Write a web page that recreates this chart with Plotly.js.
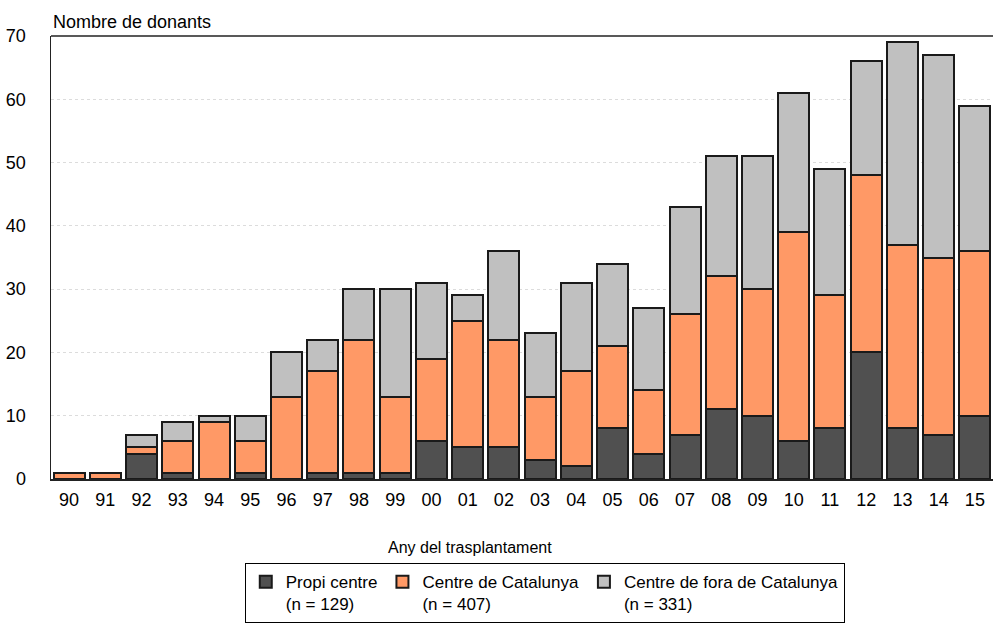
<!DOCTYPE html>
<html>
<head>
<meta charset="utf-8">
<script src="https://cdn.plot.ly/plotly-3.0.1.min.js"></script>
<style>html,body{margin:0;padding:0;background:#fff;}</style>
</head>
<body>
<div id="chart" style="width:993px;height:628px;"></div>
<script>
const years = ["90","91","92","93","94","95","96","97","98","99","00","01","02","03","04","05","06","07","08","09","10","11","12","13","14","15"];
const propiCentre = [0,0,4,1,0,1,0,1,1,1,6,5,5,3,2,8,4,7,11,10,6,8,20,8,7,10];
const centreCatalunya = [1,1,1,5,9,5,13,16,21,12,13,20,17,10,15,13,10,19,21,20,33,21,28,29,28,26];
const centreFora = [0,0,2,3,1,4,7,5,8,17,12,4,14,10,14,13,13,17,19,21,22,20,18,32,32,23];
const seriesNames = ["Propi centre<br>(n = 129)","Centre de Catalunya<br>(n = 407)","Centre de fora de Catalunya<br>(n = 331)"];
const seriesColors = ["#505050","#FF9966","#C0C0C0"];
const yTitle = "Nombre de donants";
const xTitle = "Any del trasplantament";

const FONT = "Liberation Sans Narrow, Arial Narrow, Liberation Sans, Arial, sans-serif";
const series = [propiCentre, centreCatalunya, centreFora];
const traces = series.map((vals, i) => ({
  type: "bar",
  x: years,
  y: vals,
  name: seriesNames[i],
  marker: {color: seriesColors[i], line: {color: "#1a1a1a", width: 2}},
  hoverinfo: "x+y+name"
}));

const layout = {
  width: 993, height: 628,
  margin: {l: 51, r: 0, t: 36, b: 149},
  barmode: "stack",
  bargap: 0.145,
  paper_bgcolor: "#ffffff",
  plot_bgcolor: "#ffffff",
  font: {family: FONT, size: 18, color: "#000"},
  xaxis: {
    type: "category",
    showline: true, linecolor: "#222", linewidth: 1.5,
    ticks: "", showgrid: false,
    tickfont: {family: FONT, size: 18, color: "#000"},
    ticklabelstandoff: 4
  },
  yaxis: {
    range: [0, 70], dtick: 10, tick0: 0,
    showline: true, linecolor: "#222", linewidth: 1.5,
    ticks: "", zeroline: false,
    showgrid: true, gridcolor: "#dcdcdc", griddash: "dot", gridwidth: 1,
    tickfont: {family: FONT, size: 18, color: "#000"},
    ticklabelstandoff: 20
  },
  showlegend: true,
  legend: {
    orientation: "h",
    x: 0.2057, xanchor: "left",
    y: -0.19, yanchor: "top",
    bordercolor: "#000", borderwidth: 1,
    bgcolor: "#fff",
    valign: "top",
    traceorder: "normal",
    font: {family: FONT, size: 17, color: "#000"},
    itemwidth: 30,
    tracegroupgap: 0
  },
  shapes: [{
    type: "line", xref: "paper", yref: "paper",
    x0: 0, x1: 1, y0: 1, y1: 1,
    line: {color: "#222", width: 1.5}
  }],
  annotations: [
    {text: yTitle, xref: "paper", yref: "paper", x: 0, y: 1, xanchor: "left", yanchor: "bottom",
     yshift: 2, showarrow: false, font: {family: FONT, size: 18, color: "#000"}},
    {text: xTitle, xref: "paper", yref: "paper", x: 0.445, y: -0.1535, xanchor: "center", yanchor: "middle",
     showarrow: false, font: {family: FONT, size: 16, color: "#000"}}
  ]
};

Plotly.newPlot("chart", traces, layout, {displayModeBar: false, staticPlot: true});
</script>
</body>
</html>
